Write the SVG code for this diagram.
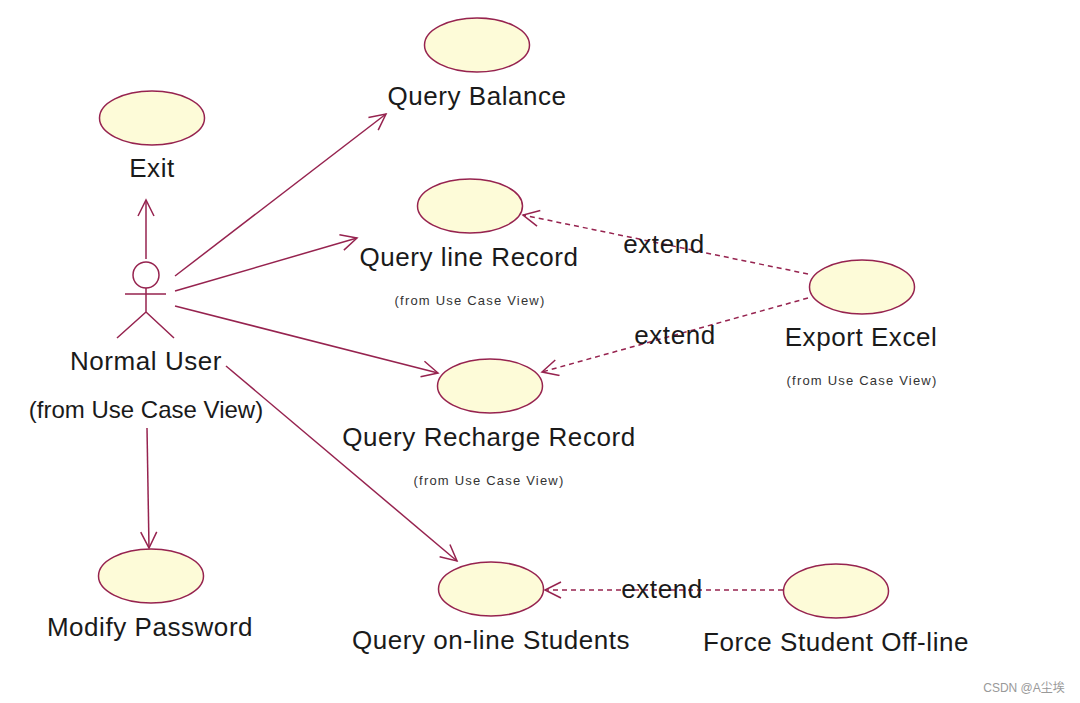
<svg xmlns="http://www.w3.org/2000/svg" width="1080" height="703" viewBox="0 0 1080 703">
<style>
text{font-family:"Liberation Sans",Arial,sans-serif;fill:#1a1a1a;text-anchor:middle}
.l{font-size:26px;letter-spacing:.55px}
.s{font-size:13px;fill:#333;letter-spacing:1.2px}
.e{fill:#fdfbd8;stroke:#96234f;stroke-width:1.5}
.c{fill:none;stroke:#96234f;stroke-width:1.5}
.d{stroke-dasharray:5 4}
</style>
<defs>
<marker id="a" markerWidth="26" markerHeight="20" refX="19" refY="9" orient="auto" markerUnits="userSpaceOnUse"><path d="M3 1L19 9L3 17" fill="none" stroke="#96234f" stroke-width="1.500"/></marker>
</defs>
<rect width="1080" height="703" fill="#fff"/>
<g id="connectors">
<path class="c" marker-end="url(#a)" d="M146 259V200"/>
<path class="c" marker-end="url(#a)" d="M175 276L386 114"/>
<path class="c" marker-end="url(#a)" d="M175 291L357 238"/>
<path class="c" marker-end="url(#a)" d="M175 306L438 373"/>
<path class="c" marker-end="url(#a)" d="M226 366L457 561"/>
<path class="c" marker-end="url(#a)" d="M147 428L149 548"/>
<path class="c d" marker-end="url(#a)" d="M808 274L523 215"/>
<path class="c d" marker-end="url(#a)" d="M808 298L542 372"/>
<path class="c d" marker-end="url(#a)" d="M783 590H545"/>
</g>
<g id="exit"><ellipse class="e" cx="152" cy="118" rx="52.500" ry="27"/><text class="l" x="152" y="177">Exit</text></g>
<g id="query-balance"><ellipse class="e" cx="477" cy="45" rx="52.500" ry="27"/><text class="l" x="477" y="105">Query Balance</text></g>
<g id="query-line-record"><ellipse class="e" cx="470" cy="206" rx="52.500" ry="27"/><text class="l" x="469" y="266">Query line Record</text><text class="s" x="470" y="305">(from Use Case View)</text></g>
<g id="query-recharge-record"><ellipse class="e" cx="490" cy="386" rx="52.500" ry="27"/><text class="l" x="489" y="446">Query Recharge Record</text><text class="s" x="489" y="485">(from Use Case View)</text></g>
<g id="export-excel"><ellipse class="e" cx="862" cy="287" rx="52.500" ry="27"/><text class="l" x="861" y="346">Export Excel</text><text class="s" x="862" y="385">(from Use Case View)</text></g>
<g id="modify-password"><ellipse class="e" cx="151" cy="576" rx="52.500" ry="27"/><text class="l" x="150" y="636">Modify Password</text></g>
<g id="query-online-students"><ellipse class="e" cx="491" cy="589" rx="52.500" ry="27"/><text class="l" x="491" y="649">Query on-line Students</text></g>
<g id="force-student-offline"><ellipse class="e" cx="836" cy="591" rx="52.500" ry="27"/><text class="l" x="836" y="651">Force Student Off-line</text></g>
<g id="normal-user">
<circle class="c" cx="146" cy="275" r="13"/>
<path class="c" d="M146 288V312M125 294H166M146 312L117 338M146 312L174 338"/>
<text class="l" x="146" y="370">Normal User</text>
<text font-size="24" x="146" y="418">(from Use Case View)</text>
</g>
<g id="labels">
<text class="l" x="664" y="253">extend</text>
<text class="l" x="675" y="344">extend</text>
<text class="l" x="662" y="598">extend</text>
</g>
<text x="1024" y="692" font-size="12" style="font-family:'Liberation Sans','Noto Sans CJK SC',sans-serif;fill:#999">CSDN @A尘埃</text>
</svg>
